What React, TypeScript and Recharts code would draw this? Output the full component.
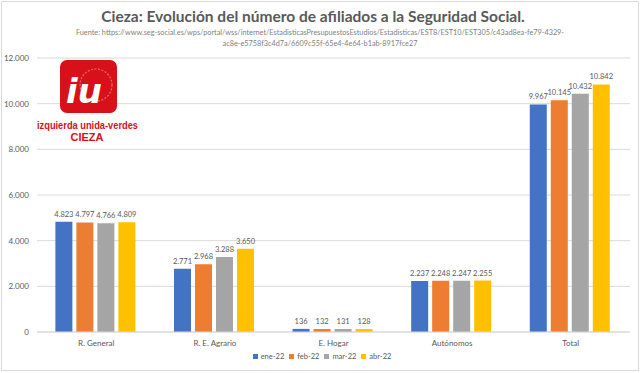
import { Bar, BarChart, CartesianGrid, LabelList, Legend, XAxis, YAxis } from 'recharts'

const categories = ['R. General', 'R. E. Agrario', 'E. Hogar', 'Autónomos', 'Total']
const ene22 = [4823, 2771, 136, 2237, 9967]
const feb22 = [4797, 2968, 132, 2248, 10145]
const mar22 = [4766, 3288, 131, 2247, 10432]
const abr22 = [4809, 3650, 128, 2255, 10842]
const yTicks = [0, 2000, 4000, 6000, 8000, 10000, 12000]

const series = [
  { key: 'ene', name: 'ene-22', color: '#4472C4' },
  { key: 'feb', name: 'feb-22', color: '#ED7D31' },
  { key: 'mar', name: 'mar-22', color: '#A5A5A5' },
  { key: 'abr', name: 'abr-22', color: '#FFC000' },
]

const data = categories.map((name, i) => ({
  name,
  ene: ene22[i],
  feb: feb22[i],
  mar: mar22[i],
  abr: abr22[i],
}))

const fmt = (v: number) => v.toLocaleString('de-DE')
const font = 'Lato, "Open Sans", sans-serif'

function LegendRow() {
  return (
    <div style={{ display: 'flex', justifyContent: 'center', gap: 5, paddingLeft: 14, fontSize: 7.5, color: '#595959', fontFamily: font }}>
      {series.map((s) => (
        <span key={s.key} style={{ display: 'flex', alignItems: 'center', gap: 3 }}>
          <span style={{ width: 5, height: 5, background: s.color, display: 'inline-block' }} />
          {s.name}
        </span>
      ))}
    </div>
  )
}

function Logo() {
  return (
    <svg width={160} height={100} style={{ position: 'absolute', left: 0, top: 55 }}>
      <rect x={60} y={5} width={57} height={53} rx={7} fill="#D7101A" />
      <circle cx={96} cy={30} r={16} fill="none" stroke="#EE6A6F" strokeWidth={1.2} strokeDasharray="2 1.5" />
      <text x={66} y={48} fill="#fff" fontFamily="'DejaVu Sans', sans-serif" fontWeight={900} fontStyle="italic" fontSize={34}>
        iu
      </text>
      <text x={37} y={74} textLength={101} lengthAdjust="spacingAndGlyphs" fill="#D7101A" fontFamily="'Liberation Sans', sans-serif" fontWeight={700} fontSize={11}>
        izquierda unida-verdes
      </text>
      <text x={87} y={86} textAnchor="middle" fill="#D7101A" fontFamily="'Liberation Sans', sans-serif" fontWeight={700} fontSize={11}>
        CIEZA
      </text>
    </svg>
  )
}

export default function App() {
  return (
    <div
      style={{
        position: 'absolute',
        left: 0,
        top: 0,
        width: 640,
        height: 373,
        background: '#fff',
        fontFamily: font,
      }}
    >
      <div style={{ position: 'absolute', left: 1, top: 1, width: 636, height: 368, border: '1px solid #d9d9d9' }} />
      <div style={{ position: 'absolute', top: 7, left: 0, width: 626, textAlign: 'center', color: '#595959', fontSize: 15.5, fontWeight: 700, whiteSpace: 'nowrap' }}>
        Cieza: Evolución del número de afiliados a la Seguridad Social.
      </div>
      <div style={{ position: 'absolute', top: 27, left: 0, width: 640, textAlign: 'center', color: '#7f7f7f', fontSize: 7.3, lineHeight: '11px', whiteSpace: 'nowrap' }}>
        Fuente: https://www.seg-social.es/wps/portal/wss/internet/EstadisticasPresupuestosEstudios/Estadisticas/EST8/EST10/EST305/c43ad8ea-fe79-4329-
        <br />
        ac8e-e5758f3c4d7a/6609c55f-65e4-4e64-b1ab-8917fce27
      </div>
      <BarChart
        width={640}
        height={373}
        data={data}
        margin={{ top: 58, right: 10, bottom: 4, left: 0 }}
        barCategoryGap="15.5%"
        barGap={4}
        style={{ position: 'absolute', left: 0, top: 0 }}
      >
        <CartesianGrid vertical={false} stroke="#d9d9d9" />
        <XAxis
          dataKey="name"
          tickLine={false}
          axisLine={{ stroke: '#d9d9d9' }}
          tick={{ fill: '#595959', fontSize: 8, fontFamily: font }}
          height={20}
        />
        <YAxis
          width={37}
          domain={[0, 12000]}
          ticks={yTicks}
          tickFormatter={fmt}
          axisLine={false}
          tickLine={false}
          tick={{ fill: '#595959', fontSize: 8, fontFamily: font }}
        />
        <Legend verticalAlign="bottom" height={17} content={<LegendRow />} />
        {series.map((s) => (
          <Bar key={s.key} dataKey={s.key} name={s.name} fill={s.color} isAnimationActive={false}>
            <LabelList
              dataKey={s.key}
              position="top"
              offset={5}
              formatter={(v: any) => fmt(Number(v))}
              style={{ fill: '#595959', fontSize: 7.5, fontFamily: font }}
            />
          </Bar>
        ))}
      </BarChart>
      <Logo />
    </div>
  )
}
